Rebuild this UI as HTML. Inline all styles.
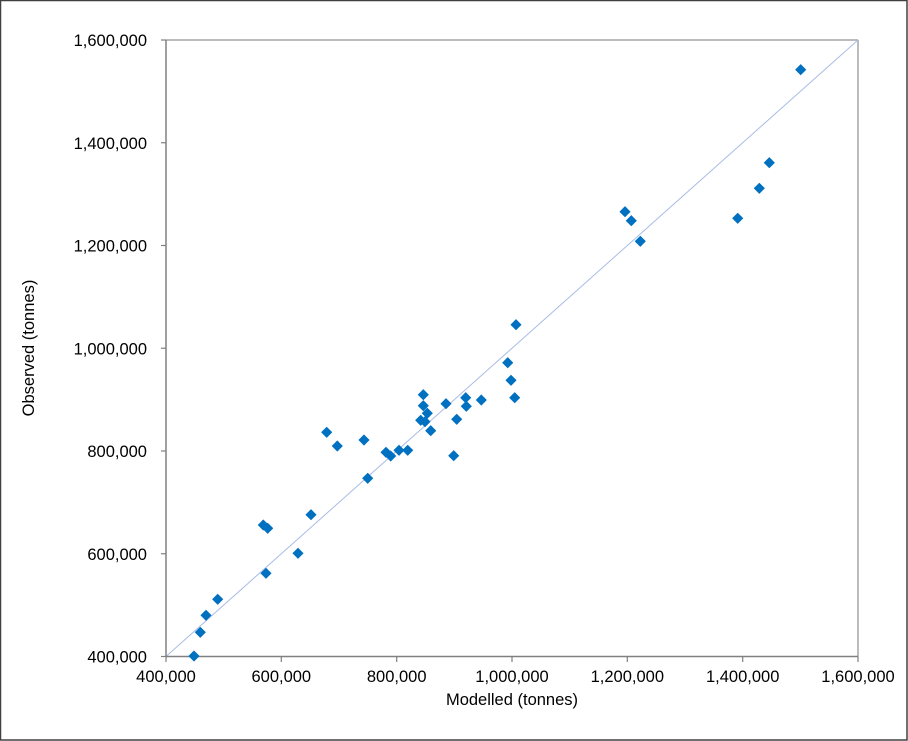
<!DOCTYPE html>
<html>
<head>
<meta charset="utf-8">
<style>
html,body{margin:0;padding:0;background:#fff;}
svg{display:block;}
text{font-family:"Liberation Sans",Arial,sans-serif;font-size:16.5px;fill:#000;}
</style>
</head>
<body>
<svg width="908" height="741" viewBox="0 0 908 741" xmlns="http://www.w3.org/2000/svg">
<rect x="0.5" y="0.5" width="906.5" height="739.5" fill="#fff" stroke="#404040" stroke-width="1.5"/>
<line x1="166" y1="40" x2="858" y2="40" stroke="#a6a6a6" stroke-width="1.5"/>
<line x1="858" y1="40" x2="858" y2="656.5" stroke="#a6a6a6" stroke-width="1.5"/>
<line x1="166" y1="656.5" x2="858" y2="40" stroke="#a9bde6" stroke-width="1"/>
<line x1="166" y1="40" x2="166" y2="657" stroke="#808080" stroke-width="1.5"/>
<line x1="166" y1="656.5" x2="858" y2="656.5" stroke="#808080" stroke-width="1.5"/>
<g stroke="#808080" stroke-width="1.2">
<line x1="161" y1="40" x2="166" y2="40"/>
<line x1="161" y1="142.75" x2="166" y2="142.75"/>
<line x1="161" y1="245.5" x2="166" y2="245.5"/>
<line x1="161" y1="348.25" x2="166" y2="348.25"/>
<line x1="161" y1="451" x2="166" y2="451"/>
<line x1="161" y1="553.75" x2="166" y2="553.75"/>
<line x1="161" y1="656.5" x2="166" y2="656.5"/>
<line x1="166" y1="656.5" x2="166" y2="662"/>
<line x1="281.3" y1="656.5" x2="281.3" y2="662"/>
<line x1="396.7" y1="656.5" x2="396.7" y2="662"/>
<line x1="512" y1="656.5" x2="512" y2="662"/>
<line x1="627.3" y1="656.5" x2="627.3" y2="662"/>
<line x1="742.7" y1="656.5" x2="742.7" y2="662"/>
<line x1="858" y1="656.5" x2="858" y2="662"/>
</g>
<g text-anchor="end">
<text x="147" y="46">1,600,000</text>
<text x="147" y="148.75">1,400,000</text>
<text x="147" y="251.5">1,200,000</text>
<text x="147" y="354.25">1,000,000</text>
<text x="147" y="457">800,000</text>
<text x="147" y="559.75">600,000</text>
<text x="147" y="662.5">400,000</text>
</g>
<g text-anchor="middle">
<text x="166" y="682">400,000</text>
<text x="281.3" y="682">600,000</text>
<text x="396.7" y="682">800,000</text>
<text x="512" y="682">1,000,000</text>
<text x="627.3" y="682">1,200,000</text>
<text x="742.7" y="682">1,400,000</text>
<text x="858" y="682">1,600,000</text>
<text x="512" y="705">Modelled (tonnes)</text>
<text x="0" y="0" transform="translate(34,348) rotate(-90)">Observed (tonnes)</text>
</g>
<g fill="#0070c0" stroke="#0070c0" stroke-width="0.8" stroke-linejoin="miter">
<path d="M194,651L199,656L194,661L189,656Z"/>
<path d="M200.3,627.3L205.3,632.3L200.3,637.3L195.3,632.3Z"/>
<path d="M206,610.3L211,615.3L206,620.3L201,615.3Z"/>
<path d="M217.7,594.3L222.7,599.3L217.7,604.3L212.7,599.3Z"/>
<path d="M266,568.3L271,573.3L266,578.3L261,573.3Z"/>
<path d="M298,548.3L303,553.3L298,558.3L293,553.3Z"/>
<path d="M263.3,520L268.3,525L263.3,530L258.3,525Z"/>
<path d="M267.7,523.3L272.7,528.3L267.7,533.3L262.7,528.3Z"/>
<path d="M311,509.7L316,514.7L311,519.7L306,514.7Z"/>
<path d="M367.7,473.3L372.7,478.3L367.7,483.3L362.7,478.3Z"/>
<path d="M326.7,427.3L331.7,432.3L326.7,437.3L321.7,432.3Z"/>
<path d="M337.3,441L342.3,446L337.3,451L332.3,446Z"/>
<path d="M364,435L369,440L364,445L359,440Z"/>
<path d="M386,447.3L391,452.3L386,457.3L381,452.3Z"/>
<path d="M390.7,451L395.7,456L390.7,461L385.7,456Z"/>
<path d="M399,445.3L404,450.3L399,455.3L394,450.3Z"/>
<path d="M407.7,445.3L412.7,450.3L407.7,455.3L402.7,450.3Z"/>
<path d="M453.7,450.7L458.7,455.7L453.7,460.7L448.7,455.7Z"/>
<path d="M430.7,425.7L435.7,430.7L430.7,435.7L425.7,430.7Z"/>
<path d="M420.7,415.3L425.7,420.3L420.7,425.3L415.7,420.3Z"/>
<path d="M425,416.7L430,421.7L425,426.7L420,421.7Z"/>
<path d="M456.7,414.3L461.7,419.3L456.7,424.3L451.7,419.3Z"/>
<path d="M427.3,408.3L432.3,413.3L427.3,418.3L422.3,413.3Z"/>
<path d="M423.3,400.7L428.3,405.7L423.3,410.7L418.3,405.7Z"/>
<path d="M466.3,401.3L471.3,406.3L466.3,411.3L461.3,406.3Z"/>
<path d="M446,398.7L451,403.7L446,408.7L441,403.7Z"/>
<path d="M423.3,389.7L428.3,394.7L423.3,399.7L418.3,394.7Z"/>
<path d="M465.7,392.7L470.7,397.7L465.7,402.7L460.7,397.7Z"/>
<path d="M481.3,395L486.3,400L481.3,405L476.3,400Z"/>
<path d="M514.7,392.7L519.7,397.7L514.7,402.7L509.7,397.7Z"/>
<path d="M511,375.3L516,380.3L511,385.3L506,380.3Z"/>
<path d="M507.7,357.7L512.7,362.7L507.7,367.7L502.7,362.7Z"/>
<path d="M516,319.7L521,324.7L516,329.7L511,324.7Z"/>
<path d="M640.3,236.3L645.3,241.3L640.3,246.3L635.3,241.3Z"/>
<path d="M625,206.7L630,211.7L625,216.7L620,211.7Z"/>
<path d="M631.3,215.7L636.3,220.7L631.3,225.7L626.3,220.7Z"/>
<path d="M737.7,213.3L742.7,218.3L737.7,223.3L732.7,218.3Z"/>
<path d="M759.3,183.3L764.3,188.3L759.3,193.3L754.3,188.3Z"/>
<path d="M769.3,157.7L774.3,162.7L769.3,167.7L764.3,162.7Z"/>
<path d="M800.7,64.7L805.7,69.7L800.7,74.7L795.7,69.7Z"/>
</g>
</svg>
</body>
</html>
